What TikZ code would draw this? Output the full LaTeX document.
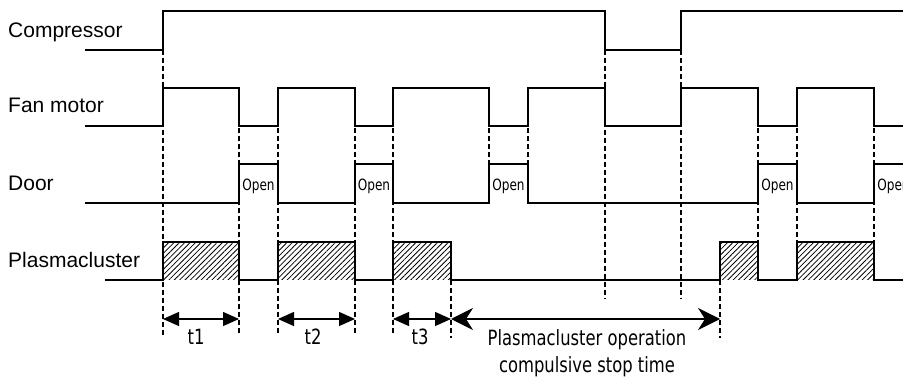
\documentclass[tikz,border=0pt]{standalone}
\usepackage{fontspec}
\setmainfont{Liberation Sans}
\newfontfamily\narrowfont{DejaVu Sans}[FakeStretch=0.78]
\usetikzlibrary{arrows.meta,patterns.meta}
\tikzset{
  sig/.style={line width=1.4pt, line join=miter},
  guide/.style={line width=1.1pt, dash pattern=on 5pt off 3pt},
  hatchbox/.style={pattern={Lines[angle=45,distance=3.8pt,line width=0.8pt]}},
  dimarr/.style={line width=1.3pt, {Triangle[length=16pt,width=14pt]}-{Triangle[length=16pt,width=14pt]}},
  stoparr/.style={line width=1.3pt, {Stealth[length=22pt,width=22pt,inset=7pt]}-{Stealth[length=22pt,width=22pt,inset=7pt]}},
  rowlabel/.style={anchor=base west, inner sep=0pt, font=\fontsize{21}{25}\selectfont},
  openlabel/.style={anchor=base, inner sep=0pt, font=\narrowfont\fontsize{15.5}{18}\selectfont},
  timelabel/.style={anchor=base, inner sep=0pt, font=\narrowfont\fontsize{21}{27}\selectfont}
}
\begin{document}
\begin{tikzpicture}[x=1pt,y=-1pt]
  \clip (0,0) rectangle (903,379);
  \useasboundingbox (0,0) rectangle (903,379);
  % row labels
  \draw
    (8,38) node[rowlabel] (comp) {Compressor}
    (8,113) node[rowlabel] (fan) {Fan motor}
    (8,191) node[rowlabel] (door) {Door}
    (8,268) node[rowlabel] (plasma) {Plasmacluster};
  % hatched plasmacluster periods
  \begin{scope}[hatchbox]
    \fill (163,242) rectangle (239,280);
    \fill (278,242) rectangle (355,280);
    \fill (393,242) rectangle (451,280);
    \fill (720,242) rectangle (758,280);
    \fill (797,242) rectangle (874,280);
  \end{scope}
  % guide lines
  \begin{scope}[guide]
    \draw (163,50) -- (163,335);
    \draw (239,88) -- (239,335);
    \draw (278,88) -- (278,335);
    \draw (355,88) -- (355,335);
    \draw (393,88) -- (393,335);
    \draw (451,280) -- (451,338);
    \draw (489,88) -- (489,164);
    \draw (528,88) -- (528,164);
    \draw (605,50) -- (605,299);
    \draw (681,50) -- (681,299);
    \draw (720,280) -- (720,338);
    \draw (758,88) -- (758,280);
    \draw (797,88) -- (797,280);
    \draw (874,88) -- (874,280);
  \end{scope}
  % signals
  \begin{scope}[sig]
    \draw (85,50) -- (163,50) -- (163,11) -- (605,11) -- (605,50) -- (681,50)
      -- (681,11) -- (903,11);
    \draw (85,126) -- (163,126) -- (163,88) -- (239,88) -- (239,126) -- (278,126)
      -- (278,88) -- (355,88) -- (355,126) -- (393,126) -- (393,88) -- (489,88)
      -- (489,126) -- (528,126) -- (528,88) -- (605,88) -- (605,126) -- (681,126)
      -- (681,88) -- (758,88) -- (758,126) -- (797,126) -- (797,88) -- (874,88)
      -- (874,126) -- (903,126);
    \draw (85,203) -- (239,203) -- (239,164) -- (278,164) -- (278,203) -- (355,203)
      -- (355,164) -- (393,164) -- (393,203) -- (489,203) -- (489,164) -- (528,164)
      -- (528,203) -- (758,203) -- (758,164) -- (797,164) -- (797,203) -- (874,203)
      -- (874,164) -- (903,164);
    \draw (105,280) -- (163,280) -- (163,242) -- (239,242) -- (239,280) -- (278,280)
      -- (278,242) -- (355,242) -- (355,280) -- (393,280) -- (393,242) -- (451,242)
      -- (451,280) -- (720,280) -- (720,242) -- (758,242) -- (758,280) -- (797,280)
      -- (797,242) -- (874,242) -- (874,280) -- (903,280);
  \end{scope}
  % stop edges of the plasmacluster periods
  \begin{scope}[line width=2.6pt]
    \draw (239,243) -- (239,280);
    \draw (355,243) -- (355,280);
    \draw (451,243) -- (451,280);
    \draw (758,243) -- (758,280);
    \draw (874,243) -- (874,280);
  \end{scope}
  % door open labels
  \draw
    (258.5,191) node[openlabel] (open1) {Open}
    (374,191) node[openlabel] (open2) {Open}
    (508.5,191) node[openlabel] (open3) {Open}
    (777.5,191) node[openlabel] (open4) {Open}
    (893.5,191) node[openlabel] (open5) {Open};
  % time spans
  \coordinate (t1a) at (163,319);
  \coordinate (t1b) at (239,319);
  \coordinate (t2a) at (278,319);
  \coordinate (t2b) at (355,319);
  \coordinate (t3a) at (393,319);
  \coordinate (t3b) at (451,319);
  \coordinate (stopa) at (451,319);
  \coordinate (stopb) at (720,319);
  \draw[dimarr] (t1a) -- (t1b);
  \draw[dimarr] (t2a) -- (t2b);
  \draw[dimarr] (t3a) -- (t3b);
  \draw[stoparr] (stopa) -- (stopb);
  \draw
    (196,345) node[timelabel] (t1) {t1}
    (313,345) node[timelabel] (t2) {t2}
    (420,345) node[timelabel] (t3) {t3}
    (587,346) node[timelabel] (stop1) {Plasmacluster operation}
    (587,373) node[timelabel] (stop2) {compulsive stop time};
\end{tikzpicture}
\end{document}
